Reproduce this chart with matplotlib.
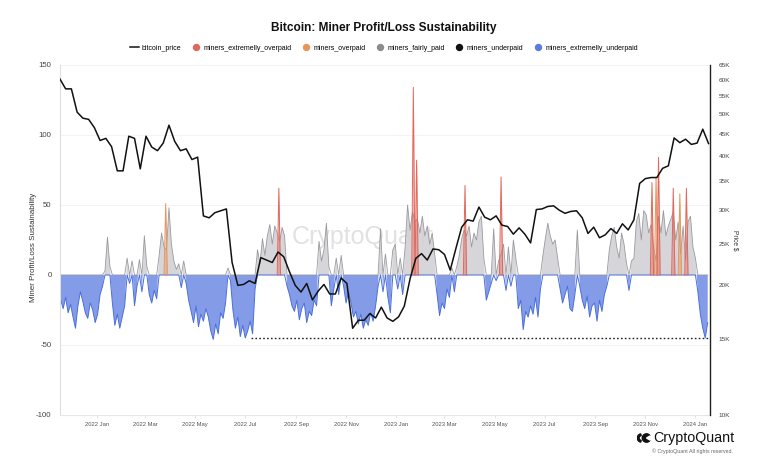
import matplotlib

matplotlib.use("Agg")
import matplotlib.pyplot as plt
import matplotlib.dates as mdates
from matplotlib.lines import Line2D
from matplotlib.patches import Wedge, Circle
from matplotlib.ticker import NullLocator
import numpy as np
import pandas as pd

plt.rcParams["font.family"] = ["Liberation Sans", "DejaVu Sans"]

# ==================== Data ====================
TITLE = "Bitcoin: Miner Profit/Loss Sustainability"

# weekly BTC price (thousands USD), starting 2021-11-17
PRICE_START = "2021-11-17"
btc_price_k = [
    60.3, 57.2, 57.2, 50.5, 48.9, 48.6, 46.5,
    43.4, 43.9, 42.0, 36.9, 36.9, 44.4, 43.9, 37.3, 44.4, 41.9,
    41.1, 42.8, 47.1, 43.2, 41.1, 41.5, 39.2, 39.7, 29.0, 28.7,
    29.5, 29.8, 30.1, 22.6, 20.0, 20.1, 20.5, 20.2, 23.2, 22.9,
    22.6, 23.9, 23.3, 21.5, 20.0, 19.3, 20.2, 18.5, 19.4, 20.1,
    19.1, 19.1, 20.8, 20.2, 15.9, 16.6, 16.6, 17.2, 16.8, 17.8,
    16.8, 16.5,
    16.9, 17.9, 20.7, 23.1, 23.7, 22.9, 24.3, 24.2, 23.6, 21.7,
    24.4, 27.3, 28.4, 28.2, 30.4, 28.8, 28.4, 29.0, 27.6, 27.4,
    26.3, 27.2, 26.3, 25.1, 30.0, 30.1, 30.5, 30.6, 29.9, 29.4,
    29.7, 29.8, 28.7, 26.4, 27.3, 25.8, 26.2, 27.1, 26.4, 27.8,
    26.9, 28.4, 34.5, 35.4, 35.6, 35.6, 37.4, 37.9, 44.0, 42.9,
    43.7, 42.5,
    42.8, 46.1, 42.7,
]

# sustainability index, every 3 days starting 2021-11-18
SUST_START = "2021-11-18"
sustainability = [
    -18, -24, -16, -27, -21, -30, -38, -22, -12, -19, -27, -31, -20, -25, -34, -28, -14, -8,
    3, 27, 6,
    -20, -36, -28, -38, -30, -22,
    12, -6, 10, -22, -8, 11, -12, 28, 6, -14, -20, -11, -17,
    14, 30, 20, 18, 48, 22, 10, 4,
    8, -9, 10, -6,
    -18, -26, -34, -22, -37, -28, -33, -24, -30, -40, -46, -35, -42, -27, -31, -20,
    5, -4,
    -25, -38, -30, -44, -36, -45, -40, -33, -42,
    -10, 18, 8, 26, 14, 28, 36, 22, 35, 30, 24, 34, 28,
    -8, -14, -22, -26, -18, -32, -24, -20, -34, -26, -29, -18, -22,
    24, 10, 18, 37, 6,
    -22, -10, 12, -14, 14, -8, -20, -12,
    -20, -30, -26, -35, -28, -38, -32, -36, -27, -33, -22,
    -8, 33, -12, 15, -16, -27, 18, 22, -10, 12, -14, 20,
    50, 32, 45, 38, 40, 30, 42, 28, 35, 22, 30, 15,
    -14, -29, -20, -24, -10, -16, 5, -12,
    6, 14, 26, 32, 28, 35, 20, 30, 25, 38,
    42, 12, -18, -12, -6, 33, -4, 10,
    15, 22, -11, 20, -8, 25, 12,
    -24, -18, -39, -26, -30, -22, -28, -16, -30, -10,
    14, 26, 37, 28, 22, 25, 12,
    -10, -20, -14, -8, -24, -26, -14, 32, -8,
    -18, -24, -15, -30, -22, -20, -33, -18, -26, -14, -8,
    18, 28, 34, 20, 12, 30, 22, 8, -11, 10,
    12, 38, 44, 25, 46, 43, 30, 36, 20, 10, 42, 30, 46, 28, 35, 40, 45, 25, 38, 15, 35, 10, 38, 42, 20, 12,
    -12, -28, -38, -45, -34,
]

overpaid_dates = ["2022-03-26", "2023-11-14", "2023-12-13"]
overpaid_vals = [51, 70, 58]
extreme_dates = ["2022-08-11", "2023-01-22", "2023-01-26", "2023-03-26", "2023-05-09",
                 "2023-11-09", "2023-11-17", "2023-12-05", "2023-12-21"]
extreme_vals = [62, 134, 82, 64, 70, 66, 84, 62, 62]

FLOOR_LEVEL = -45
FLOOR_START = "2022-07-08"

left_ticks = [-100, -50, 0, 50, 100, 150]
right_ticks = [10, 15, 20, 25, 30, 35, 40, 45, 50, 55, 60, 65]
# ===============================================

C_RED = "#e2675c"
C_ORANGE = "#e8955a"
C_GRAY = "#8c8c8c"
C_BLUE = "#4a6fdc"


def draw_spikes(ax, dates, vals, color):
    half = pd.Timedelta(days=2)
    for d, v in zip(pd.to_datetime(dates), vals):
        xs = [d - half, d, d + half]
        ys = [0, v, 0]
        ax.fill_between(xs, ys, 0, color=color, alpha=0.45, lw=0, zorder=3)
        ax.plot(xs, ys, color=color, lw=0.7, zorder=3)


def main():
    fig = plt.figure(figsize=(7.68, 4.63), dpi=100)
    ax = fig.add_axes([0.078, 0.1037, 0.8467, 0.756])

    sd = pd.date_range(SUST_START, periods=len(sustainability), freq="3D")
    sv = np.array(sustainability, dtype=float)

    ax.fill_between(sd, sv, 0, where=sv > 0, interpolate=True,
                    color="#d2d2d6", alpha=0.9, lw=0, zorder=2)
    ax.fill_between(sd, sv, 0, where=sv < 0, interpolate=True,
                    color="#7d97e6", alpha=0.95, lw=0, zorder=2)
    ax.plot(sd, np.maximum(sv, 0), color="#9a9a9e", lw=0.6, zorder=2.5)
    ax.plot(sd, np.minimum(sv, 0), color=C_BLUE, lw=0.7, zorder=2.5)

    draw_spikes(ax, overpaid_dates, overpaid_vals, C_ORANGE)
    draw_spikes(ax, extreme_dates, extreme_vals, C_RED)

    x0 = pd.Timestamp("2021-11-17")
    x1 = pd.Timestamp("2024-01-19")
    ax.plot([pd.Timestamp(FLOOR_START), pd.Timestamp("2024-01-17")],
            [FLOOR_LEVEL, FLOOR_LEVEL], color="#222222", lw=1.0,
            linestyle=(0, (1.2, 1.6)), zorder=4)

    ax.set_xlim(x0, x1)
    ax.set_ylim(-100, 150)
    ax.set_yticks(left_ticks)
    ax.set_yticklabels([str(t) for t in left_ticks])
    ax.tick_params(axis="y", length=0, labelsize=5.6, labelcolor="#444444", pad=6)
    ax.yaxis.grid(True, color="#f1f1f1", lw=0.6)
    ax.set_axisbelow(True)

    month_ticks = pd.date_range("2022-01-01", "2024-01-01", freq="2MS")
    ax.set_xticks(month_ticks)
    ax.xaxis.set_major_formatter(mdates.DateFormatter("%Y %b"))
    ax.tick_params(axis="x", length=2, color="#e4e4e4", labelsize=4.2,
                   labelcolor="#555555", pad=3)

    for side in ["top", "right"]:
        ax.spines[side].set_visible(False)
    ax.spines["left"].set_color("#dedede")
    ax.spines["bottom"].set_color("#e6e6e6")

    ax.set_ylabel("Miner Profit/Loss Sustainability", fontsize=5.8, color="#333333")
    ax.yaxis.set_label_coords(-0.035, 0.48)

    # price on log scale
    ax2 = ax.twinx()
    pd_dates = pd.date_range(PRICE_START, periods=len(btc_price_k), freq="7D")
    ax2.plot(pd_dates, np.array(btc_price_k) * 1000, color="#111111", lw=1.1, zorder=5)
    ax2.set_yscale("log")
    ax2.set_ylim(10000, 65000)
    ax2.set_yticks([t * 1000 for t in right_ticks])
    ax2.set_yticklabels([f"{t}K" for t in right_ticks])
    ax2.yaxis.set_minor_locator(NullLocator())
    ax2.tick_params(axis="y", length=0, labelsize=4.6, labelcolor="#444444", pad=6)
    for side in ["top", "left", "bottom"]:
        ax2.spines[side].set_visible(False)
    ax2.spines["right"].set_color("#222222")
    ax2.spines["right"].set_linewidth(1.0)
    ax2.set_ylabel("Price $", fontsize=4.8, color="#333333", rotation=270, va="center")
    ax2.yaxis.set_label_coords(1.038, 0.5)

    # watermark
    ax.text(0.465, 0.509, "CryptoQuant", transform=ax.transAxes, fontsize=18,
            color="#e2e2e2", ha="center", va="center", zorder=1)

    fig.text(0.5, 0.94, TITLE, ha="center", va="center", fontsize=8.6,
             fontweight="bold", color="#111111")

    handles = [
        Line2D([], [], color="#111111", lw=1.1),
        Line2D([], [], marker="o", ls="", color=C_RED, markersize=4.3),
        Line2D([], [], marker="o", ls="", color=C_ORANGE, markersize=4.3),
        Line2D([], [], marker="o", ls="", color=C_GRAY, markersize=4.3),
        Line2D([], [], marker="o", ls="", color="#111111", markersize=4.3),
        Line2D([], [], marker="o", ls="", color="#5a7be2", markersize=4.3),
    ]
    labels = ["bitcoin_price", "miners_extremelly_overpaid", "miners_overpaid",
              "miners_fairly_paid", "miners_underpaid", "miners_extremelly_underpaid"]
    fig.legend(handles, labels, loc="center", bbox_to_anchor=(0.5, 0.896), ncol=6,
               frameon=False, fontsize=5.0, handlelength=1.2, handletextpad=0.45,
               columnspacing=1.5)

    # logo
    lax = fig.add_axes([637 / 768, 1 - 444 / 463, 14 / 768, 12 / 463])
    lax.set_xlim(0, 14)
    lax.set_ylim(0, 12)
    lax.set_aspect("equal")
    lax.axis("off")
    lax.add_patch(Wedge((4.5, 6), 4.2, 100, 260, width=1.8, color="#111111"))
    lax.add_patch(Circle((9.5, 6), 4.2, color="#111111"))
    lax.add_patch(Wedge((9.5, 6), 4.3, 330, 30, color="white"))
    fig.text(653 / 768, 1 - 438 / 463, "CryptoQuant", ha="left", va="center",
             fontsize=10.3, color="#111111")
    fig.text(733 / 768, 1 - 451 / 463, "© CryptoQuant All rights reserved.",
             ha="right", va="center", fontsize=3.8, color="#666666")

    fig.savefig("out.png", dpi=100)
    plt.close(fig)


if __name__ == "__main__":
    main()
